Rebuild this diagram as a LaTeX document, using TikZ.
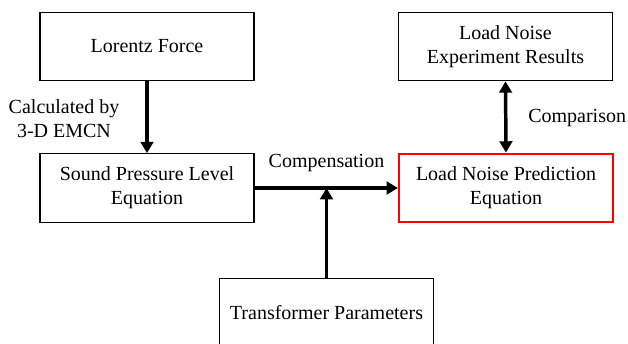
\documentclass[tikz,border=0pt]{standalone}
\usepackage{fontspec}
\setmainfont{Liberation Serif}
\usetikzlibrary{arrows.meta}
\begin{document}
\begin{tikzpicture}[x=0.75pt,y=-0.75pt,
  box/.style={draw=black,line width=0.8pt,minimum width=160.5pt,minimum height=51.5pt,align=center,inner sep=2pt,font=\fontsize{15}{18}\selectfont},
  redbox/.style={box,draw=red,line width=1.6pt},
  lbl/.style={align=center,inner sep=0pt,font=\fontsize{15}{18}\selectfont},
  arr/.style={line width=2.6pt,-{Triangle[length=8.5pt,width=9.5pt]}},
  darr/.style={line width=2.6pt,{Triangle[length=8.5pt,width=9.5pt]}-{Triangle[length=8.5pt,width=9.5pt]}}]
\useasboundingbox (0,0) rectangle (628,343);
\clip (0,0) rectangle (628,343);
\node[box] (lf) at (147,46.5) {Lorentz Force};
\node[box] (spl) at (147,188) {Sound Pressure Level\\Equation};
\node[box] (lne) at (505.5,46.5) {Load Noise\\Experiment Results};
\node[redbox] (lnp) at (506,188) {Load Noise Prediction\\Equation};
\node[box] (tp) at (326.5,313) {Transformer Parameters};
\node[lbl] (calc) at (64,118.5) {Calculated by\\3-D EMCN};
\node[lbl] (comp) at (326.5,163) {Compensation};
\node[lbl,anchor=west] (cmpr) at (528,118) {Comparison};
\draw[arr] (lf.south) -- (spl.north);
\draw[arr] (spl.east) -- (lnp.west);
\draw[darr] (lne.south) -- (lnp.north);
\draw[arr] (tp.north) -- (tp.north |- spl.east);
\end{tikzpicture}
\end{document}
